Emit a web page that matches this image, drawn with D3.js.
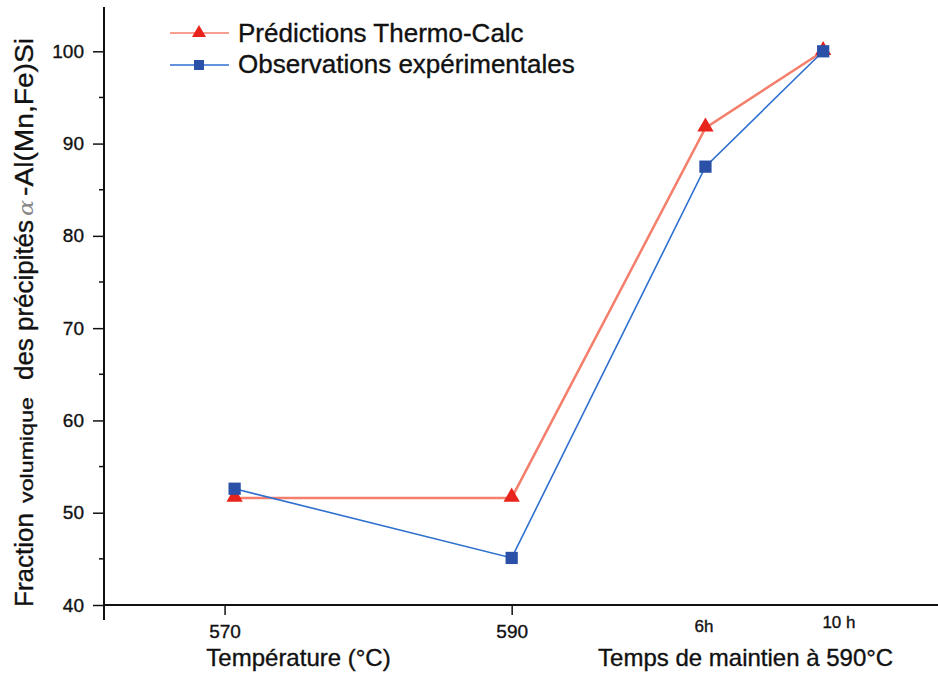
<!DOCTYPE html>
<html>
<head>
<meta charset="utf-8">
<script src="https://cdn.jsdelivr.net/npm/d3@7"></script>
<style>
  body { margin: 0; background: #fff; }
  text { font-family: "Liberation Sans", Arial, sans-serif; fill: #111; stroke: #111; stroke-width: 0.35px; }
</style>
</head>
<body>
<div id="wrapper"></div>
<script>
// categories along the bottom (positions)
const pointLabels = ["570", "590", "6h", "10 h"];
const pointX = [570.7, 590, 603.5, 611.7];
// series values (%)
const predictions = [51.6, 51.6, 91.7, 100];
const observations = [52.6, 45.1, 87.5, 100];
// tick labels
const tempTicks = [570, 590];
const timeTicks = [{ label: "6h", x: 603.4, dy: 27 }, { label: "10 h", x: 612.8, dy: 23 }];
const yTicks = [40, 50, 60, 70, 80, 90, 100];
const yMinorTicks = [45, 55, 65, 75, 85, 95];
// y title pieces: text, font size, pixel length along the axis
const yTitleParts = [
  { text: "Fraction", size: 26, len: 94, gap: 10 },
  { text: "volumique", size: 19, len: 106, gap: 17 },
  { text: "des précipités", size: 26, len: 160, gap: 4 },
  { text: "α", size: 21, len: 16, gap: 4, serif: true },
  { text: "-Al(Mn,Fe)Si", size: 26, len: 158, gap: 0 },
];

function drawChart() {
  const dimensions = {
    width: 938,
    height: 679,
    margin: { top: 7, right: 0, bottom: 74, left: 104 },
  };
  dimensions.boundedWidth = dimensions.width - dimensions.margin.left - dimensions.margin.right;
  dimensions.boundedHeight = dimensions.height - dimensions.margin.top - dimensions.margin.bottom;

  const wrapper = d3.select("#wrapper").append("svg")
    .attr("width", dimensions.width)
    .attr("height", dimensions.height);

  const bounds = wrapper.append("g")
    .attr("transform", `translate(${dimensions.margin.left},${dimensions.margin.top})`);

  const xScale = d3.scaleLinear()
    .domain([561.6, 619.7])
    .range([0, dimensions.boundedWidth]);

  const yScale = d3.scaleLinear()
    .domain([40, 104.8])
    .range([dimensions.boundedHeight, 0]);

  // y axis
  const yAxis = bounds.append("g")
    .call(d3.axisLeft(yScale).tickValues(yTicks).tickSize(11).tickPadding(9).tickSizeOuter(0));
  yAxis.select(".domain").remove();
  yAxis.selectAll("line").attr("stroke", "#111").attr("stroke-width", 1.5);
  yAxis.selectAll("text").style("font-size", "19px").attr("fill", "#111");

  bounds.append("g")
    .selectAll("line")
    .data(yMinorTicks)
    .join("line")
    .attr("x1", -5).attr("x2", 0)
    .attr("y1", (d) => yScale(d)).attr("y2", (d) => yScale(d))
    .attr("stroke", "#111").attr("stroke-width", 1.5);

  bounds.append("line")
    .attr("x1", 0).attr("x2", 0)
    .attr("y1", 0).attr("y2", dimensions.boundedHeight + 15)
    .attr("stroke", "#111").attr("stroke-width", 2);

  // x axis
  const xAxis = bounds.append("g")
    .attr("transform", `translate(0,${dimensions.boundedHeight})`)
    .call(d3.axisBottom(xScale).tickValues(tempTicks).tickSize(10).tickPadding(10).tickSizeOuter(0));
  xAxis.select(".domain").remove();
  xAxis.selectAll("line").attr("stroke", "#111").attr("stroke-width", 1.5);
  xAxis.selectAll("text").style("font-size", "19px").attr("fill", "#111");

  bounds.append("line")
    .attr("x1", 0).attr("x2", dimensions.boundedWidth)
    .attr("y1", dimensions.boundedHeight).attr("y2", dimensions.boundedHeight)
    .attr("stroke", "#111").attr("stroke-width", 2);

  bounds.append("g")
    .selectAll("text")
    .data(timeTicks)
    .join("text")
    .attr("x", (d) => xScale(d.x))
    .attr("y", (d) => dimensions.boundedHeight + d.dy)
    .attr("text-anchor", "middle")
    .style("font-size", "17px")
    .text((d) => d.label);

  // axis titles
  bounds.append("text")
    .attr("x", xScale(575.15))
    .attr("y", dimensions.boundedHeight + 61)
    .attr("text-anchor", "middle")
    .style("font-size", "24px")
    .text("Température (°C)");

  bounds.append("text")
    .attr("x", xScale(606.3))
    .attr("y", dimensions.boundedHeight + 61)
    .attr("text-anchor", "middle")
    .style("font-size", "24px")
    .text("Temps de maintien à 590°C");

  // y title, built from pieces going upward from the bottom
  let yPos = 607;
  const yTitle = wrapper.append("g");
  yTitleParts.forEach((p) => {
    yTitle.append("text")
      .attr("transform", `translate(33,${yPos}) rotate(-90)`)
      .attr("textLength", p.len)
      .attr("lengthAdjust", "spacingAndGlyphs")
      .style("font-size", `${p.size}px`)
      .style("font-family", p.serif ? "DejaVu Serif, serif" : null)
      .style("font-style", p.serif ? "italic" : null)
      .style("fill", p.serif ? "#888" : "#111")
      .style("stroke", p.serif ? "none" : null)
      .text(p.text);
    yPos -= p.len + p.gap;
  });

  // lines
  const lineGenerator = d3.line()
    .x((d, i) => xScale(pointX[i]))
    .y((d) => yScale(d));

  bounds.append("path")
    .attr("d", lineGenerator(predictions))
    .attr("fill", "none")
    .attr("stroke", "#f47f6c")
    .attr("stroke-width", 2.5);

  bounds.append("path")
    .attr("d", lineGenerator(observations))
    .attr("fill", "none")
    .attr("stroke", "#2f6fd0")
    .attr("stroke-width", 1.6);

  const triangle = d3.symbol().type(d3.symbolTriangle).size(115);
  const square = d3.symbol().type(d3.symbolSquare).size(150);

  bounds.append("g")
    .selectAll("path")
    .data(predictions)
    .join("path")
    .attr("d", triangle)
    .attr("transform", (d, i) => `translate(${xScale(pointX[i])},${yScale(d) - 1})`)
    .attr("fill", "#e8231b");

  bounds.append("g")
    .selectAll("path")
    .data(observations)
    .join("path")
    .attr("d", square)
    .attr("transform", (d, i) => `translate(${xScale(pointX[i])},${yScale(d)})`)
    .attr("fill", "#2a50a8");

  // legend
  const legendItems = [
    { name: "Prédictions Thermo-Calc", line: "#f47f6c", fill: "#e8231b", symbol: d3.symbol().type(d3.symbolTriangle).size(85), y: 33, dy: 9 },
    { name: "Observations expérimentales", line: "#2f6fd0", fill: "#2a50a8", symbol: d3.symbol().type(d3.symbolSquare).size(100), y: 65, dy: 8 },
  ];
  const legend = wrapper.append("g");
  const item = legend.selectAll("g").data(legendItems).join("g")
    .attr("transform", (d) => `translate(0,${d.y})`);
  item.append("line")
    .attr("x1", 170).attr("x2", 229)
    .attr("stroke", (d) => d.line).attr("stroke-width", 1.5);
  item.append("path")
    .attr("d", (d) => d.symbol())
    .attr("transform", "translate(199,0)")
    .attr("fill", (d) => d.fill);
  item.append("text")
    .attr("x", 238)
    .attr("y", (d) => d.dy)
    .style("font-size", "26px")
    .text((d) => d.name);
}

drawChart();
</script>
</body>
</html>
